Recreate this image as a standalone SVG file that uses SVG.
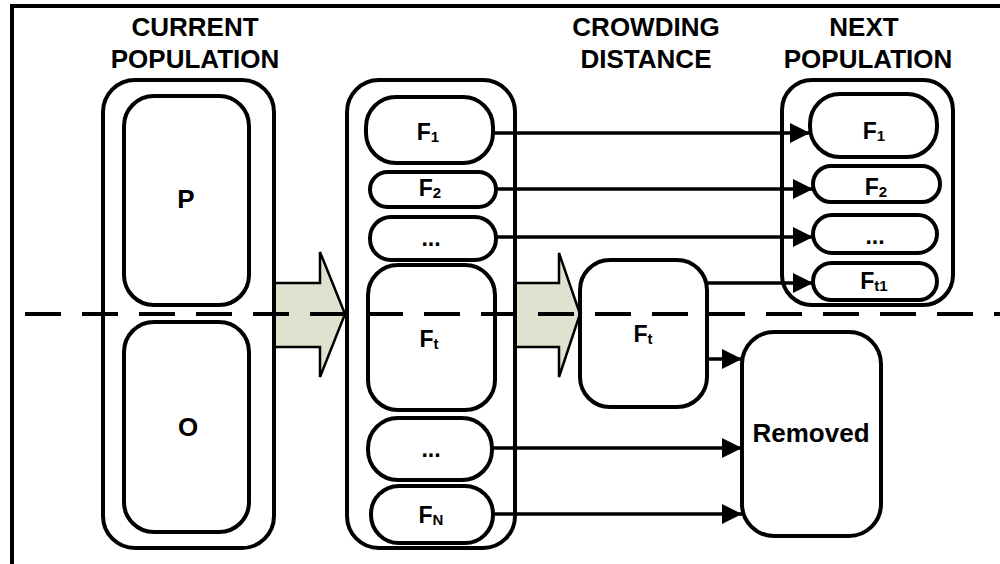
<svg xmlns="http://www.w3.org/2000/svg" width="1000" height="564" viewBox="0 0 1000 564">
<defs>
<style>
.box{fill:#fff;stroke:#000;stroke-width:4}
.big{fill:#dfe2cf;stroke:#000;stroke-width:2.5;stroke-linejoin:miter}
.lbl{font-family:"Liberation Sans",Arial,sans-serif;font-weight:bold;fill:#000;text-anchor:middle}
.t{font-size:26px}
.f{font-size:23px}
.sub{font-size:15px}
.con{fill:none;stroke:#000;stroke-width:3.5}
</style>
<marker id="ah" viewBox="0 0 20 20" refX="20" refY="10" markerWidth="20" markerHeight="20" markerUnits="userSpaceOnUse" orient="auto">
<path d="M0,0 L20,10 L0,20 Z" fill="#000"/>
</marker>
</defs>
<rect width="1000" height="564" fill="#fff"/>
<path d="M12,566 L12,6 L1002,6" fill="none" stroke="#000" stroke-width="4"/>

<g id="titles">
<text class="lbl t" x="195" y="36">CURRENT</text>
<text class="lbl t" x="195" y="68">POPULATION</text>
<text class="lbl t" x="646" y="36">CROWDING</text>
<text class="lbl t" x="646" y="68">DISTANCE</text>
<text class="lbl t" x="864" y="36">NEXT</text>
<text class="lbl t" x="868" y="68">POPULATION</text>
</g>

<g id="bigarrows">
<polygon class="big" points="274,283 320,283 320,252 345,314 320,377 320,347 274,347"/>
<polygon class="big" points="515,283 559,283 559,253 580,314 559,377 559,347 515,347"/>
</g>

<g id="current">
<rect class="box" x="103" y="80" width="171" height="468" rx="32"/>
<g id="P"><rect class="box" x="124" y="96" width="125" height="209" rx="30"/><text class="lbl t" x="186" y="208">P</text></g>
<g id="O"><rect class="box" x="124" y="322" width="125" height="210" rx="30"/><text class="lbl t" x="188" y="436">O</text></g>
</g>

<g id="fronts">
<rect class="box" x="347" y="80" width="168" height="468" rx="32"/>
<g id="F1"><rect class="box" x="366" y="97" width="127" height="66" rx="30"/><text class="lbl f" x="428" y="140">F<tspan class="sub" dy="2">1</tspan></text></g>
<g id="F2"><rect class="box" x="370" y="172" width="126" height="35" rx="17.5"/><text class="lbl f" x="430" y="196">F<tspan class="sub" dy="2">2</tspan></text></g>
<g id="Fdots1"><rect class="box" x="370" y="217" width="126" height="43" rx="21"/><text class="lbl f" x="431" y="246">...</text></g>
<g id="Ft"><rect class="box" x="368" y="265" width="127" height="145" rx="30"/><text class="lbl f" x="429" y="347">F<tspan class="sub" dy="2">t</tspan></text></g>
<g id="Fdots2"><rect class="box" x="368" y="418" width="124" height="62" rx="30"/><text class="lbl f" x="431" y="457">...</text></g>
<g id="FN"><rect class="box" x="371" y="486" width="122" height="57" rx="28"/><text class="lbl f" x="431" y="523">F<tspan class="sub" dy="2">N</tspan></text></g>
</g>

<g id="crowding">
<rect class="box" x="580" y="260" width="127" height="147" rx="30"/>
<text class="lbl f" x="643" y="342">F<tspan class="sub" dy="2">t</tspan></text>
</g>

<g id="next">
<rect class="box" x="782" y="80" width="171" height="225" rx="30"/>
<g id="NF1"><rect class="box" x="810" y="94" width="127" height="63" rx="30"/><text class="lbl f" x="874" y="139">F<tspan class="sub" dy="2">1</tspan></text></g>
<g id="NF2"><rect class="box" x="813" y="166" width="127" height="36" rx="18"/><text class="lbl f" x="876" y="195">F<tspan class="sub" dy="2">2</tspan></text></g>
<g id="Ndots"><rect class="box" x="813" y="215" width="124" height="38" rx="19"/><text class="lbl f" x="875" y="244">...</text></g>
<g id="NFt1"><rect class="box" x="813" y="263" width="124" height="37" rx="18.5"/><text class="lbl f" x="874" y="289">F<tspan class="sub" dy="2">t1</tspan></text></g>
</g>

<g id="removed">
<rect class="box" x="742" y="332" width="139" height="204" rx="32"/>
<text class="lbl t" x="811" y="442">Removed</text>
</g>

<g id="connectors">
<line class="con" x1="493" y1="133" x2="810" y2="133" marker-end="url(#ah)"/>
<line class="con" x1="496" y1="189" x2="813" y2="189" marker-end="url(#ah)"/>
<line class="con" x1="496" y1="237" x2="813" y2="237" marker-end="url(#ah)"/>
<line class="con" x1="707" y1="283" x2="813" y2="283" marker-end="url(#ah)"/>
<line class="con" x1="707" y1="359" x2="742" y2="359" marker-end="url(#ah)"/>
<line class="con" x1="492" y1="448" x2="742" y2="448" marker-end="url(#ah)"/>
<line class="con" x1="493" y1="514" x2="742" y2="514" marker-end="url(#ah)"/>
</g>

<line x1="25" y1="314" x2="1000" y2="314" stroke="#000" stroke-width="4" stroke-dasharray="36 21"/>
</svg>
